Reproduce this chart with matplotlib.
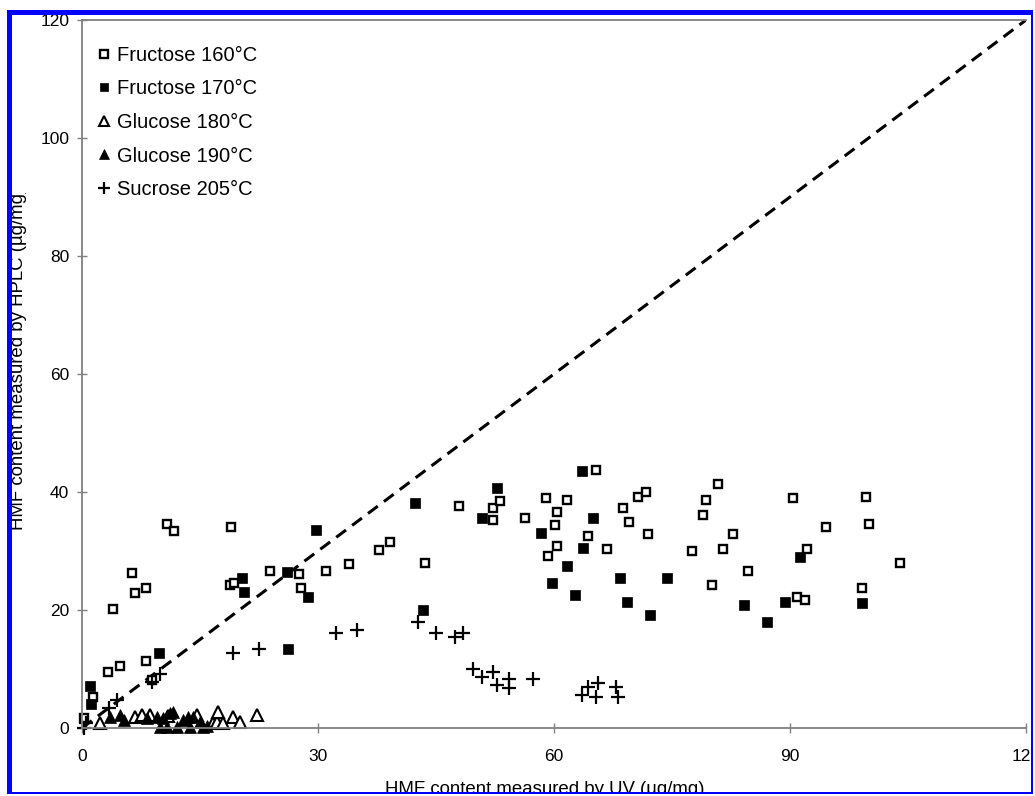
import numpy as np
import matplotlib
matplotlib.use("Agg")
import matplotlib.pyplot as plt
from matplotlib.patches import Rectangle
from matplotlib.transforms import Bbox

plt.rcParams['font.family'] = ['Liberation Sans', 'DejaVu Sans']

# ----------------------------
# Data
# ----------------------------
fru160_x = [0.3, 1.4, 3.3, 4.8, 8.1, 8.9, 3.9, 6.3, 6.7, 8.1, 10.8, 11.7, 19.0, 18.8, 19.3,
            23.9, 27.6, 27.9, 31.0, 33.9, 37.8, 39.1, 43.6, 47.9, 52.3, 53.1, 52.3, 56.3,
            59.0, 61.7, 60.4, 60.1, 60.4, 59.2, 64.3, 66.7, 65.3, 68.8, 69.5, 70.7, 71.7,
            72.0, 77.6, 78.9, 79.3, 80.8, 81.5, 82.8, 80.1, 84.7, 90.4, 94.6, 92.1, 90.9,
            91.9, 99.6, 100.0, 99.2, 104.0]
fru160_y = [1.7, 5.3, 9.5, 10.5, 11.4, 8.1, 20.2, 26.3, 22.9, 23.7, 34.6, 33.4, 34.1, 24.2, 24.5,
            26.6, 26.1, 23.7, 26.6, 27.8, 30.2, 31.5, 28.0, 37.6, 37.3, 38.5, 35.3, 35.6,
            39.0, 38.6, 36.6, 34.4, 30.8, 29.2, 32.5, 30.3, 43.7, 37.3, 34.9, 39.2, 40.0,
            32.9, 30.0, 36.1, 38.6, 41.4, 30.3, 32.9, 24.2, 26.6, 39.0, 34.1, 30.3, 22.2,
            21.7, 39.2, 34.6, 23.7, 28.0]

fru170_x = [1.0, 1.1, 9.8, 20.3, 20.6, 26.0, 28.7, 26.2, 29.7, 42.3, 43.4, 50.9, 52.7, 58.4,
            59.8, 61.6, 62.7, 63.7, 65.0, 63.5, 68.4, 69.3, 72.2, 74.4, 84.1, 87.1, 89.4,
            91.3, 99.2]
fru170_y = [7.1, 4.1, 12.7, 25.4, 23.1, 26.4, 22.2, 13.4, 33.6, 38.1, 20.0, 35.6, 40.7, 33.1,
            24.6, 27.5, 22.5, 30.5, 35.6, 43.6, 25.4, 21.4, 19.2, 25.4, 20.8, 18.0, 21.4,
            29.0, 21.2]

glu180_x = [2.3, 6.7, 7.6, 8.6, 10.9, 14.6, 16.6, 17.1, 17.3, 17.9, 19.2, 20.1, 22.3]
glu180_y = [0.8, 1.9, 2.2, 2.2, 2.0, 2.2, 0.8, 1.0, 2.7, 0.8, 1.9, 1.0, 2.2]

glu190_x = [3.6, 4.8, 5.4, 8.2, 9.5, 9.9, 10.3, 10.8, 11.2, 11.6, 12.1, 12.8, 13.5, 13.7,
            14.1, 15.0, 15.4, 15.9]
glu190_y = [1.9, 2.2, 1.4, 1.7, 1.9, 0.2, 1.7, 0.2, 2.5, 2.7, 0.2, 1.4, 1.9, 0.2,
            1.9, 1.0, 0.2, 0.3]

suc205_x = [0.2, 0.5, 3.4, 4.4, 8.9, 9.9, 19.2, 22.5, 32.3, 35.0, 42.7, 45.0, 47.4, 48.4,
            49.7, 50.9, 52.3, 52.8, 54.3, 54.3, 57.3, 63.6, 64.3, 65.4, 65.6, 67.9, 68.1]
suc205_y = [0.0, 0.8, 3.4, 4.7, 7.8, 9.2, 12.7, 13.4, 16.1, 16.6, 18.0, 16.1, 15.4, 16.1,
            10.0, 8.6, 9.5, 7.3, 6.8, 8.3, 8.3, 5.6, 7.0, 5.3, 7.6, 7.0, 5.3]

x_ticks = [0, 30, 60, 90, 120]
y_ticks = [0, 20, 40, 60, 80, 100, 120]

# ----------------------------
# Figure
# ----------------------------
W, H = 1035, 796
fig = plt.figure(figsize=(W / 100, H / 100), dpi=100)
ax = fig.add_axes([82 / W, 1 - 728 / H, (1026 - 82) / W, (728 - 20) / H])

ax.plot([0, 120], [0, 120], color='black', lw=2.2, ls=(0, (4, 2.5)), zorder=1)

ax.plot(fru160_x, fru160_y, 's', ms=6.0, mfc='white', mec='black', mew=1.7,
        label='Fructose 160°C', clip_on=False)
ax.plot(fru170_x, fru170_y, 's', ms=7.4, mfc='black', mec='black', mew=0.5,
        label='Fructose 170°C', clip_on=False)
ax.plot(glu180_x, glu180_y, '^', ms=8.5, mfc='white', mec='black', mew=1.5,
        label='Glucose 180°C', clip_on=False)
ax.plot(glu190_x, glu190_y, '^', ms=9, mfc='black', mec='black', mew=0.5,
        label='Glucose 190°C', clip_on=False)
ax.plot(suc205_x, suc205_y, '+', ms=10, color='black', mew=1.6,
        label='Sucrose 205°C', clip_on=False)

ax.set_xlim(0, 120)
ax.set_ylim(0, 120)
ax.set_xticks(x_ticks)
ax.set_yticks(y_ticks)
ax.tick_params(direction='inout', length=6.5, width=1, color='#808080',
               labelsize=12.5)
ax.tick_params(axis='y', pad=6)
ax.tick_params(axis='x', pad=12)

for s in ['left', 'bottom', 'top']:
    ax.spines[s].set_color('#808080')
    ax.spines[s].set_linewidth(1.3)
ax.spines['right'].set_visible(False)

leg = ax.legend(loc='upper left', bbox_to_anchor=(97 / W, 1 - 46 / H),
                bbox_transform=fig.transFigure, frameon=False, fontsize=14.5,
                handlelength=0.7, handletextpad=0.3, labelspacing=0.72,
                borderpad=0, borderaxespad=0, markerscale=0.85)

# axis labels (partly cut by the picture frame, as in the original)
ylab = fig.text(19 / W, 1 - 530 / H, 'HMF content measured by HPLC (µg/mg)',
                rotation=90, ha='center', va='bottom', fontsize=13.4)
ylab.set_clip_box(Bbox.from_extents(0, 0, W, H - 193))
ylab.set_clip_on(True)
fig.text(545 / W, 1 - 794 / H, 'HMF content measured by UV (µg/mg)',
         ha='center', va='baseline', fontsize=13.4)

# frame around the picture
def frame_rect(x0, y0, x1, y1, color):
    fig.add_artist(Rectangle((x0 / W, 1 - y1 / H), (x1 - x0) / W, (y1 - y0) / H,
                             transform=fig.transFigure, facecolor=color,
                             edgecolor='none', zorder=20))

frame_rect(0, 0, W, 10, 'white')
frame_rect(0, 0, 7, H, 'white')
frame_rect(0, 794, W, H, 'white')
frame_rect(1033, 0, W, H, 'white')
frame_rect(7, 10, 1033, 15, '#0000ff')
frame_rect(7, 10, 12, 794, '#0000ff')
frame_rect(7, 792, 1033, 794, '#0000ff')
frame_rect(1031, 10, 1033, 794, '#0000ff')

fig.savefig('out.png', dpi=100)
